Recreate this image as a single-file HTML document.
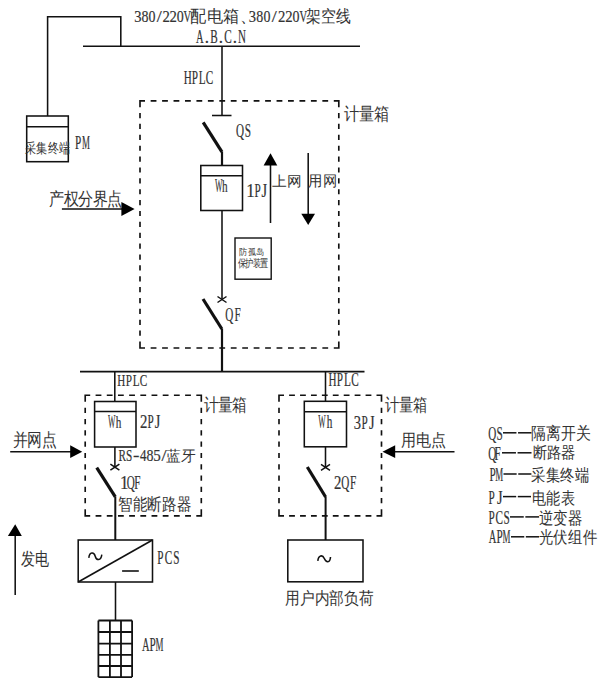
<!DOCTYPE html>
<html><head><meta charset="utf-8"><style>
html,body{margin:0;padding:0;background:#fff;width:600px;height:681px;overflow:hidden}
svg{display:block}
g.lat text{stroke:#333;stroke-width:0.2px}
text{fill:#333;font-family:'Liberation Serif',serif}
</style></head><body>
<svg width="600" height="681" viewBox="0 0 600 681">
<g stroke="#111" fill="none" stroke-linecap="butt">
<polyline points="47.6,116 47.6,16.8 120.8,16.8 120.8,46.2" fill="none" stroke-width="1.55"/>
<line x1="83" y1="46.2" x2="360" y2="46.2" stroke-width="1.55"/>
<line x1="222" y1="46.2" x2="222" y2="115.5" stroke-width="1.55"/>
<line x1="212" y1="115.5" x2="231.5" y2="115.5" stroke-width="1.55"/>
<line x1="203.2" y1="122.4" x2="221.9" y2="151.8" stroke-width="3.2"/>
<line x1="222" y1="151.5" x2="222" y2="165.5" stroke-width="2.2"/>
<rect x="200.8" y="165.5" width="41.69999999999999" height="45.0" stroke-width="1.55" fill="none"/>
<line x1="200.8" y1="175.8" x2="242.5" y2="175.8" stroke-width="1.55"/>
<line x1="222" y1="210.5" x2="222" y2="299.5" stroke-width="1.55"/>
<path d="M217.5,296.5 L226.5,302.5 M217.5,302.5 L226.5,296.5" stroke-width="1.5" fill="none"/>
<line x1="203" y1="299" x2="221.9" y2="329" stroke-width="3.2"/>
<line x1="222" y1="328.8" x2="222" y2="371.6" stroke-width="2.2"/>
<path d="M140,107.3 L140,100.8 L145.0,100.8 M333.8,100.8 L338.8,100.8 L338.8,107.3 M338.8,341.5 L338.8,348 L333.8,348 M145.0,348 L140,348 L140,341.5" stroke-width="1.65" fill="none" stroke-linejoin="miter"/>
<path d="M150.65,100.80 L156.45,100.80 M162.09,100.80 L167.89,100.80 M173.54,100.80 L179.34,100.80 M184.99,100.80 L190.79,100.80 M196.44,100.80 L202.24,100.80 M207.88,100.80 L213.68,100.80 M219.33,100.80 L225.13,100.80 M230.78,100.80 L236.58,100.80 M242.22,100.80 L248.02,100.80 M253.67,100.80 L259.47,100.80 M265.12,100.80 L270.92,100.80 M276.56,100.80 L282.36,100.80 M288.01,100.80 L293.81,100.80 M299.46,100.80 L305.26,100.80 M310.91,100.80 L316.71,100.80 M322.35,100.80 L328.15,100.80" stroke-width="1.65" fill="none"/>
<path d="M150.65,348.00 L156.45,348.00 M162.09,348.00 L167.89,348.00 M173.54,348.00 L179.34,348.00 M184.99,348.00 L190.79,348.00 M196.44,348.00 L202.24,348.00 M207.88,348.00 L213.68,348.00 M219.33,348.00 L225.13,348.00 M230.78,348.00 L236.58,348.00 M242.22,348.00 L248.02,348.00 M253.67,348.00 L259.47,348.00 M265.12,348.00 L270.92,348.00 M276.56,348.00 L282.36,348.00 M288.01,348.00 L293.81,348.00 M299.46,348.00 L305.26,348.00 M310.91,348.00 L316.71,348.00 M322.35,348.00 L328.15,348.00" stroke-width="1.65" fill="none"/>
<path d="M338.80,112.98 L338.80,118.18 M338.80,123.86 L338.80,129.06 M338.80,134.75 L338.80,139.95 M338.80,145.63 L338.80,150.83 M338.80,156.51 L338.80,161.71 M338.80,167.39 L338.80,172.59 M338.80,178.27 L338.80,183.47 M338.80,189.15 L338.80,194.35 M338.80,200.04 L338.80,205.24 M338.80,210.92 L338.80,216.12 M338.80,221.80 L338.80,227.00 M338.80,232.68 L338.80,237.88 M338.80,243.56 L338.80,248.76 M338.80,254.45 L338.80,259.65 M338.80,265.33 L338.80,270.53 M338.80,276.21 L338.80,281.41 M338.80,287.09 L338.80,292.29 M338.80,297.97 L338.80,303.17 M338.80,308.85 L338.80,314.05 M338.80,319.74 L338.80,324.94 M338.80,330.62 L338.80,335.82" stroke-width="1.65" fill="none"/>
<path d="M140.00,112.98 L140.00,118.18 M140.00,123.86 L140.00,129.06 M140.00,134.75 L140.00,139.95 M140.00,145.63 L140.00,150.83 M140.00,156.51 L140.00,161.71 M140.00,167.39 L140.00,172.59 M140.00,178.27 L140.00,183.47 M140.00,189.15 L140.00,194.35 M140.00,200.04 L140.00,205.24 M140.00,210.92 L140.00,216.12 M140.00,221.80 L140.00,227.00 M140.00,232.68 L140.00,237.88 M140.00,243.56 L140.00,248.76 M140.00,254.45 L140.00,259.65 M140.00,265.33 L140.00,270.53 M140.00,276.21 L140.00,281.41 M140.00,287.09 L140.00,292.29 M140.00,297.97 L140.00,303.17 M140.00,308.85 L140.00,314.05 M140.00,319.74 L140.00,324.94 M140.00,330.62 L140.00,335.82" stroke-width="1.65" fill="none"/>
<line x1="270.5" y1="223" x2="270.5" y2="165" stroke-width="1.55"/>
<polygon points="263.6,165.6 277.3,165.6 270.5,153.3" fill="#000" stroke="none"/>
<line x1="308.2" y1="153" x2="308.2" y2="214" stroke-width="1.55"/>
<polygon points="301.3,213.8 315,213.8 308.2,225" fill="#000" stroke="none"/>
<rect x="235" y="238" width="36.19999999999999" height="41.19999999999999" stroke-width="1.4" fill="none"/>
<line x1="61.9" y1="208.9" x2="122" y2="208.9" stroke-width="1.55"/>
<polygon points="121.4,201.9 121.4,215.9 134.6,208.9" fill="#000" stroke="none"/>
<rect x="26.7" y="116" width="41.599999999999994" height="45.69999999999999" stroke-width="1.55" fill="none"/>
<line x1="26.7" y1="126.7" x2="68.3" y2="126.7" stroke-width="1.55"/>
<line x1="80" y1="371.6" x2="364.5" y2="371.6" stroke-width="1.55"/>
<line x1="114.8" y1="371.6" x2="114.8" y2="401.5" stroke-width="1.55"/>
<path d="M85.2,401.7 L85.2,395.2 L90.2,395.2 M196.3,395.2 L201.3,395.2 L201.3,401.7 M201.3,509.29999999999995 L201.3,515.8 L196.3,515.8 M90.2,515.8 L85.2,515.8 L85.2,509.29999999999995" stroke-width="1.65" fill="none" stroke-linejoin="miter"/>
<path d="M95.59,395.20 L101.39,395.20 M106.78,395.20 L112.58,395.20 M117.97,395.20 L123.77,395.20 M129.16,395.20 L134.96,395.20 M140.35,395.20 L146.15,395.20 M151.54,395.20 L157.34,395.20 M162.73,395.20 L168.53,395.20 M173.92,395.20 L179.72,395.20 M185.11,395.20 L190.91,395.20" stroke-width="1.65" fill="none"/>
<path d="M95.59,515.80 L101.39,515.80 M106.78,515.80 L112.58,515.80 M117.97,515.80 L123.77,515.80 M129.16,515.80 L134.96,515.80 M140.35,515.80 L146.15,515.80 M151.54,515.80 L157.34,515.80 M162.73,515.80 L168.53,515.80 M173.92,515.80 L179.72,515.80 M185.11,515.80 L190.91,515.80" stroke-width="1.65" fill="none"/>
<path d="M201.30,407.78 L201.30,412.98 M201.30,419.06 L201.30,424.26 M201.30,430.34 L201.30,435.54 M201.30,441.62 L201.30,446.82 M201.30,452.90 L201.30,458.10 M201.30,464.18 L201.30,469.38 M201.30,475.46 L201.30,480.66 M201.30,486.74 L201.30,491.94 M201.30,498.02 L201.30,503.22" stroke-width="1.65" fill="none"/>
<path d="M85.20,407.78 L85.20,412.98 M85.20,419.06 L85.20,424.26 M85.20,430.34 L85.20,435.54 M85.20,441.62 L85.20,446.82 M85.20,452.90 L85.20,458.10 M85.20,464.18 L85.20,469.38 M85.20,475.46 L85.20,480.66 M85.20,486.74 L85.20,491.94 M85.20,498.02 L85.20,503.22" stroke-width="1.65" fill="none"/>
<rect x="94.6" y="401.5" width="41.400000000000006" height="45.5" stroke-width="1.55" fill="none"/>
<line x1="94.6" y1="411.5" x2="136" y2="411.5" stroke-width="1.55"/>
<line x1="114.9" y1="447" x2="114.9" y2="467.2" stroke-width="1.55"/>
<path d="M110.4,464.2 L119.4,470.2 M110.4,470.2 L119.4,464.2" stroke-width="1.5" fill="none"/>
<line x1="96.7" y1="467.6" x2="115.3" y2="496.9" stroke-width="3.2"/>
<line x1="115.3" y1="496.7" x2="115.3" y2="540" stroke-width="2.0"/>
<rect x="78.2" y="540" width="74.3" height="42" stroke-width="1.55" fill="none"/>
<line x1="78.2" y1="582" x2="152.5" y2="540" stroke-width="1.6"/>
<path d="M88.8,557.8 C89.5,551.8 94,551.8 95.2,556.2 C96.5,560.8 101,561 101.8,554.6" fill="none" stroke-width="1.5"/>
<line x1="122.1" y1="571" x2="138.8" y2="571" stroke-width="1.6"/>
<line x1="115.5" y1="582" x2="115.5" y2="620.5" stroke-width="1.55"/>
<line x1="98.4" y1="620.5" x2="98.4" y2="677.1" stroke-width="1.8"/>
<line x1="109.9" y1="620.5" x2="109.9" y2="677.1" stroke-width="1.8"/>
<line x1="121" y1="620.5" x2="121" y2="677.1" stroke-width="1.8"/>
<line x1="132.1" y1="620.5" x2="132.1" y2="677.1" stroke-width="1.8"/>
<line x1="98.4" y1="620.5" x2="132.1" y2="620.5" stroke-width="1.8"/>
<line x1="98.4" y1="632" x2="132.1" y2="632" stroke-width="1.8"/>
<line x1="98.4" y1="643.6" x2="132.1" y2="643.6" stroke-width="1.8"/>
<line x1="98.4" y1="654.9" x2="132.1" y2="654.9" stroke-width="1.8"/>
<line x1="98.4" y1="666" x2="132.1" y2="666" stroke-width="1.8"/>
<line x1="98.4" y1="677.1" x2="132.1" y2="677.1" stroke-width="1.8"/>
<line x1="10.2" y1="451.7" x2="71" y2="451.7" stroke-width="1.55"/>
<polygon points="70.2,445.2 70.2,458 82.2,451.7" fill="#000" stroke="none"/>
<line x1="15.2" y1="594.9" x2="15.2" y2="535" stroke-width="1.55"/>
<polygon points="7.9,535.9 21.8,535.9 15.2,524.2" fill="#000" stroke="none"/>
<line x1="325.5" y1="371.6" x2="325.5" y2="401.3" stroke-width="1.55"/>
<path d="M279,401.7 L279,395.2 L284.0,395.2 M376.5,395.2 L381.5,395.2 L381.5,401.7 M381.5,509.29999999999995 L381.5,515.8 L376.5,515.8 M284.0,515.8 L279,515.8 L279,509.29999999999995" stroke-width="1.65" fill="none" stroke-linejoin="miter"/>
<path d="M289.12,395.20 L294.92,395.20 M300.04,395.20 L305.84,395.20 M310.97,395.20 L316.77,395.20 M321.89,395.20 L327.69,395.20 M332.81,395.20 L338.61,395.20 M343.73,395.20 L349.53,395.20 M354.66,395.20 L360.46,395.20 M365.58,395.20 L371.38,395.20" stroke-width="1.65" fill="none"/>
<path d="M289.12,515.80 L294.92,515.80 M300.04,515.80 L305.84,515.80 M310.97,515.80 L316.77,515.80 M321.89,515.80 L327.69,515.80 M332.81,515.80 L338.61,515.80 M343.73,515.80 L349.53,515.80 M354.66,515.80 L360.46,515.80 M365.58,515.80 L371.38,515.80" stroke-width="1.65" fill="none"/>
<path d="M381.50,407.78 L381.50,412.98 M381.50,419.06 L381.50,424.26 M381.50,430.34 L381.50,435.54 M381.50,441.62 L381.50,446.82 M381.50,452.90 L381.50,458.10 M381.50,464.18 L381.50,469.38 M381.50,475.46 L381.50,480.66 M381.50,486.74 L381.50,491.94 M381.50,498.02 L381.50,503.22" stroke-width="1.65" fill="none"/>
<path d="M279.00,407.78 L279.00,412.98 M279.00,419.06 L279.00,424.26 M279.00,430.34 L279.00,435.54 M279.00,441.62 L279.00,446.82 M279.00,452.90 L279.00,458.10 M279.00,464.18 L279.00,469.38 M279.00,475.46 L279.00,480.66 M279.00,486.74 L279.00,491.94 M279.00,498.02 L279.00,503.22" stroke-width="1.65" fill="none"/>
<rect x="304.3" y="401.3" width="42.19999999999999" height="45.5" stroke-width="1.55" fill="none"/>
<line x1="304.3" y1="411.7" x2="346.5" y2="411.7" stroke-width="1.55"/>
<line x1="325.5" y1="446.8" x2="325.5" y2="467.3" stroke-width="1.55"/>
<path d="M321.0,464.3 L330.0,470.3 M321.0,470.3 L330.0,464.3" stroke-width="1.5" fill="none"/>
<line x1="307.3" y1="467" x2="325.6" y2="497" stroke-width="3.2"/>
<line x1="325.6" y1="496.8" x2="325.6" y2="540" stroke-width="2.0"/>
<rect x="287.8" y="540" width="75.19999999999999" height="41.799999999999955" stroke-width="1.55" fill="none"/>
<path d="M317.8,560.8 C318.5,555 322.5,554.5 324.3,558.5 C326,562.5 330,563.5 330.5,557" fill="none" stroke-width="1.6"/>
<line x1="394.5" y1="451.7" x2="454.5" y2="451.7" stroke-width="1.55"/>
<polygon points="395.2,445.2 395.2,458 382.5,451.7" fill="#000" stroke="none"/>
<line x1="503" y1="432.8" x2="516.45" y2="432.8" stroke-width="1.5"/>
<line x1="518.05" y1="432.8" x2="531.5" y2="432.8" stroke-width="1.5"/>
<line x1="502" y1="452.8" x2="515.95" y2="452.8" stroke-width="1.5"/>
<line x1="517.55" y1="452.8" x2="531.5" y2="452.8" stroke-width="1.5"/>
<line x1="503.5" y1="474" x2="516.6500000000001" y2="474" stroke-width="1.5"/>
<line x1="518.25" y1="474" x2="531.4" y2="474" stroke-width="1.5"/>
<line x1="503" y1="496.6" x2="516.2" y2="496.6" stroke-width="1.5"/>
<line x1="517.8" y1="496.6" x2="531" y2="496.6" stroke-width="1.5"/>
<line x1="510" y1="516.9" x2="523.75" y2="516.9" stroke-width="1.5"/>
<line x1="525.3499999999999" y1="516.9" x2="539.1" y2="516.9" stroke-width="1.5"/>
<line x1="511" y1="536.8" x2="524.25" y2="536.8" stroke-width="1.5"/>
<line x1="525.8499999999999" y1="536.8" x2="539.1" y2="536.8" stroke-width="1.5"/>
</g>
<g id="t1" class="lat"><text x="-4.30" y="0" transform="matrix(0.857 0 0 1.045 138.00 21.80)" font-size="17">3</text><text x="-4.25" y="0" transform="matrix(0.822 0 0 1.045 145.04 21.80)" font-size="17">8</text><text x="-4.25" y="0" transform="matrix(0.822 0 0 1.045 152.09 21.80)" font-size="17">0</text><text x="-2.35" y="0" transform="matrix(1.064 0 0 1.045 159.13 21.80)" font-size="17">/</text><text x="-4.15" y="0" transform="matrix(0.870 0 0 1.045 166.17 21.80)" font-size="17">2</text><text x="-4.15" y="0" transform="matrix(0.870 0 0 1.045 173.21 21.80)" font-size="17">2</text><text x="-4.25" y="0" transform="matrix(0.822 0 0 1.045 180.26 21.80)" font-size="17">0</text><text x="-6.15" y="0" transform="matrix(0.622 0 0 1.045 187.30 21.80)" font-size="17">V</text></g>
<text id="t2" class="cjk" x="0" y="0" font-size="16" font-weight="normal" transform="matrix(1.0346 0 0 1.0867 190.07 21.73)">配电箱、</text>
<g id="t3" class="lat"><text x="-4.30" y="0" transform="matrix(0.857 0 0 1.045 252.50 21.80)" font-size="17">3</text><text x="-4.25" y="0" transform="matrix(0.822 0 0 1.045 259.76 21.80)" font-size="17">8</text><text x="-4.25" y="0" transform="matrix(0.822 0 0 1.045 267.01 21.80)" font-size="17">0</text><text x="-2.35" y="0" transform="matrix(1.064 0 0 1.045 274.27 21.80)" font-size="17">/</text><text x="-4.15" y="0" transform="matrix(0.870 0 0 1.045 281.53 21.80)" font-size="17">2</text><text x="-4.15" y="0" transform="matrix(0.870 0 0 1.045 288.79 21.80)" font-size="17">2</text><text x="-4.25" y="0" transform="matrix(0.822 0 0 1.045 296.04 21.80)" font-size="17">0</text><text x="-6.15" y="0" transform="matrix(0.622 0 0 1.045 303.30 21.80)" font-size="17">V</text></g>
<text id="t4" class="cjk" x="0" y="0" font-size="16" font-weight="normal" transform="matrix(0.9217 0 0 1.0533 306.28 21.79)">架空线</text>
<g id="t5" class="lat"><text x="-6.20" y="0" transform="matrix(0.617 0 0 1.108 199.70 42.80)" font-size="17">A</text><text x="-2.10" y="0" transform="matrix(1.000 0 0 1.108 206.73 42.80)" font-size="17">.</text><text x="-5.50" y="0" transform="matrix(0.660 0 0 1.108 213.77 42.80)" font-size="17">B</text><text x="-2.10" y="0" transform="matrix(1.000 0 0 1.108 220.80 42.80)" font-size="17">.</text><text x="-5.55" y="0" transform="matrix(0.660 0 0 1.108 227.83 42.80)" font-size="17">C</text><text x="-2.10" y="0" transform="matrix(1.000 0 0 1.108 234.87 42.80)" font-size="17">.</text><text x="-6.20" y="0" transform="matrix(0.649 0 0 1.108 241.90 42.80)" font-size="17">N</text></g>
<g id="t6" class="lat"><text x="-6.15" y="0" transform="matrix(0.655 0 0 1.090 187.70 83.80)" font-size="17">H</text><text x="-4.65" y="0" transform="matrix(0.660 0 0 1.090 194.90 83.80)" font-size="17">P</text><text x="-4.95" y="0" transform="matrix(0.660 0 0 1.090 202.10 83.80)" font-size="17">L</text><text x="-5.55" y="0" transform="matrix(0.660 0 0 1.090 209.30 83.80)" font-size="17">C</text></g>
<text id="t7" class="cjk" x="0" y="0" font-size="11" font-weight="normal" transform="matrix(1.0122 0 0 1.2800 24.88 153.12)">采集终端</text>
<g id="t8" class="lat"><text x="-4.65" y="0" transform="matrix(0.660 0 0 1.120 78.04 149.40)" font-size="17">P</text><text x="-7.55" y="0" transform="matrix(0.525 0 0 1.120 85.90 149.40)" font-size="17">M</text></g>
<g id="t9" class="lat"><text x="-6.35" y="0" transform="matrix(0.655 0 0 1.100 240.20 137.30)" font-size="17">Q</text><text x="-4.75" y="0" transform="matrix(0.660 0 0 1.100 247.89 137.30)" font-size="17">S</text></g>
<text id="t10" class="cjk" x="0" y="0" font-size="16" font-weight="normal" transform="matrix(0.9315 0 0 1.1000 344.42 120.00)">计量箱</text>
<g id="t11" class="lat"><text x="-8.00" y="0" transform="matrix(0.463 0 0 1.068 218.70 192.30)" font-size="17">W</text><text x="-4.25" y="0" transform="matrix(0.660 0 0 1.013 224.83 192.30)" font-size="17">h</text></g>
<g id="t12" class="lat"><text x="-4.50" y="0" transform="matrix(1.000 0 0 1.100 250.80 196.80)" font-size="17">1</text><text x="-4.65" y="0" transform="matrix(0.660 0 0 1.100 257.60 196.80)" font-size="17">P</text><text x="-3.35" y="0" transform="matrix(0.847 0 0 1.100 264.40 196.80)" font-size="17">J</text></g>
<text id="t13" class="cjk" x="0" y="0" font-size="16" font-weight="normal" transform="matrix(0.9328 0 0 0.8867 271.92 186.13)">上网</text>
<text id="t14" class="cjk" x="0" y="0" font-size="16" font-weight="normal" transform="matrix(0.9069 0 0 0.9500 308.19 186.00)">用网</text>
<text id="t15" class="cjk" x="0" y="0" font-size="16" font-weight="normal" transform="matrix(0.9192 0 0 1.1000 49.18 205.30)">产权分界点</text>
<text id="t16" class="cjk" x="0" y="0" font-size="8" font-weight="normal" transform="matrix(1.0857 0 0 1.1857 238.93 254.71)">防孤岛</text>
<text id="t17" class="cjk" x="0" y="0" font-size="8" font-weight="normal" transform="matrix(0.9931 0 0 1.3286 237.61 267.07)">保护装置</text>
<g id="t18" class="lat"><text x="-6.35" y="0" transform="matrix(0.655 0 0 1.100 229.50 320.60)" font-size="17">Q</text><text x="-4.65" y="0" transform="matrix(0.660 0 0 1.100 237.56 320.60)" font-size="17">F</text></g>
<g id="t19" class="lat"><text x="-6.15" y="0" transform="matrix(0.655 0 0 1.018 121.30 385.50)" font-size="17">H</text><text x="-4.65" y="0" transform="matrix(0.660 0 0 1.018 128.70 385.50)" font-size="17">P</text><text x="-4.95" y="0" transform="matrix(0.660 0 0 1.018 136.10 385.50)" font-size="17">L</text><text x="-5.55" y="0" transform="matrix(0.660 0 0 1.018 143.50 385.50)" font-size="17">C</text></g>
<g id="t20" class="lat"><text x="-6.15" y="0" transform="matrix(0.655 0 0 1.108 332.50 385.80)" font-size="17">H</text><text x="-4.65" y="0" transform="matrix(0.660 0 0 1.108 339.93 385.80)" font-size="17">P</text><text x="-4.95" y="0" transform="matrix(0.660 0 0 1.108 347.37 385.80)" font-size="17">L</text><text x="-5.55" y="0" transform="matrix(0.660 0 0 1.108 354.80 385.80)" font-size="17">C</text></g>
<text id="t21" class="cjk" x="0" y="0" font-size="16" font-weight="normal" transform="matrix(0.8978 0 0 1.1000 203.60 410.60)">计量箱</text>
<text id="t22" class="cjk" x="0" y="0" font-size="16" font-weight="normal" transform="matrix(0.9043 0 0 1.1400 384.70 410.92)">计量箱</text>
<g id="t23" class="lat"><text x="-8.00" y="0" transform="matrix(0.463 0 0 1.081 111.70 427.50)" font-size="17">W</text><text x="-4.25" y="0" transform="matrix(0.660 0 0 1.026 118.63 427.50)" font-size="17">h</text></g>
<g id="t24" class="lat"><text x="-4.15" y="0" transform="matrix(0.870 0 0 1.100 143.70 428.30)" font-size="17">2</text><text x="-4.65" y="0" transform="matrix(0.660 0 0 1.100 150.60 428.30)" font-size="17">P</text><text x="-3.35" y="0" transform="matrix(0.847 0 0 1.100 157.50 428.30)" font-size="17">J</text></g>
<g id="t25" class="lat"><text x="-8.00" y="0" transform="matrix(0.463 0 0 1.108 322.00 427.80)" font-size="17">W</text><text x="-4.25" y="0" transform="matrix(0.660 0 0 1.052 329.63 427.80)" font-size="17">h</text></g>
<g id="t26" class="lat"><text x="-4.30" y="0" transform="matrix(0.857 0 0 1.100 357.50 428.60)" font-size="17">3</text><text x="-4.65" y="0" transform="matrix(0.660 0 0 1.100 364.65 428.60)" font-size="17">P</text><text x="-3.35" y="0" transform="matrix(0.847 0 0 1.100 371.80 428.60)" font-size="17">J</text></g>
<text id="t27" class="cjk" x="0" y="0" font-size="16" font-weight="normal" transform="matrix(0.9065 0 0 1.1000 12.99 446.40)">并网点</text>
<text id="t28" class="cjk" x="0" y="0" font-size="16" font-weight="normal" transform="matrix(0.9304 0 0 1.0533 401.37 446.49)">用电点</text>
<g id="t29" class="lat"><text x="-5.90" y="0" transform="matrix(0.660 0 0 1.000 122.26 461.30)" font-size="17">R</text><text x="-4.75" y="0" transform="matrix(0.660 0 0 1.000 129.22 461.30)" font-size="17">S</text><text x="-2.80" y="0" transform="matrix(1.136 0 0 1.000 136.18 461.30)" font-size="17">-</text><text x="-4.25" y="0" transform="matrix(0.759 0 0 1.000 143.13 461.30)" font-size="17">4</text><text x="-4.25" y="0" transform="matrix(0.822 0 0 1.000 150.09 461.30)" font-size="17">8</text><text x="-4.40" y="0" transform="matrix(0.882 0 0 1.000 157.04 461.30)" font-size="17">5</text><text x="-2.35" y="0" transform="matrix(1.064 0 0 1.000 164.00 461.30)" font-size="17">/</text></g>
<text id="t30" class="cjk" x="0" y="0" font-size="16" font-weight="normal" transform="matrix(0.9393 0 0 0.9533 165.92 461.49)">蓝牙</text>
<g id="t31" class="lat"><text x="-4.50" y="0" transform="matrix(1.000 0 0 1.100 124.40 489.00)" font-size="17">1</text><text x="-6.35" y="0" transform="matrix(0.655 0 0 1.100 130.83 489.00)" font-size="17">Q</text><text x="-4.65" y="0" transform="matrix(0.660 0 0 1.100 137.26 489.00)" font-size="17">F</text></g>
<g id="t32" class="lat"><text x="-4.15" y="0" transform="matrix(0.870 0 0 1.100 337.70 489.20)" font-size="17">2</text><text x="-6.35" y="0" transform="matrix(0.655 0 0 1.100 345.33 489.20)" font-size="17">Q</text><text x="-4.65" y="0" transform="matrix(0.660 0 0 1.100 352.96 489.20)" font-size="17">F</text></g>
<text id="t33" class="cjk" x="0" y="0" font-size="16" font-weight="normal" transform="matrix(0.9123 0 0 1.0733 117.99 509.85)">智能断路器</text>
<text id="t34" class="cjk" x="0" y="0" font-size="16" font-weight="normal" transform="matrix(0.9000 0 0 1.1533 20.50 564.59)">发电</text>
<g id="t35" class="lat"><text x="-4.65" y="0" transform="matrix(0.660 0 0 1.120 160.34 564.20)" font-size="17">P</text><text x="-5.55" y="0" transform="matrix(0.660 0 0 1.120 168.31 564.20)" font-size="17">C</text><text x="-4.75" y="0" transform="matrix(0.660 0 0 1.120 176.29 564.20)" font-size="17">S</text></g>
<g id="t36" class="lat"><text x="-6.20" y="0" transform="matrix(0.617 0 0 1.117 145.80 650.70)" font-size="17">A</text><text x="-4.65" y="0" transform="matrix(0.660 0 0 1.117 152.65 650.70)" font-size="17">P</text><text x="-7.55" y="0" transform="matrix(0.525 0 0 1.117 159.50 650.70)" font-size="17">M</text></g>
<text id="t37" class="cjk" x="0" y="0" font-size="16" font-weight="normal" transform="matrix(0.9032 0 0 1.0467 285.10 603.71)">用户内部负荷</text>
<g id="t38" class="lat"><text x="-6.35" y="0" transform="matrix(0.655 0 0 1.100 492.45 440.30)" font-size="17">Q</text><text x="-4.75" y="0" transform="matrix(0.660 0 0 1.100 499.59 440.30)" font-size="17">S</text></g>
<text id="t39" class="cjk" x="0" y="0" font-size="16" font-weight="normal" transform="matrix(0.9328 0 0 1.0667 531.17 438.87)">隔离开关</text>
<g id="t40" class="lat"><text x="-6.35" y="0" transform="matrix(0.655 0 0 1.100 492.45 460.30)" font-size="17">Q</text><text x="-4.65" y="0" transform="matrix(0.660 0 0 1.100 497.46 460.30)" font-size="17">F</text></g>
<text id="t41" class="cjk" x="0" y="0" font-size="16" font-weight="normal" transform="matrix(0.8978 0 0 1.0000 532.50 458.40)">断路器</text>
<g id="t42" class="lat"><text x="-4.65" y="0" transform="matrix(0.660 0 0 1.072 492.54 480.80)" font-size="17">P</text><text x="-7.55" y="0" transform="matrix(0.525 0 0 1.072 499.30 480.80)" font-size="17">M</text></g>
<text id="t43" class="cjk" x="0" y="0" font-size="16" font-weight="normal" transform="matrix(0.9161 0 0 1.0867 531.08 481.13)">采集终端</text>
<g id="t44" class="lat"><text x="-4.65" y="0" transform="matrix(0.660 0 0 1.100 491.54 504.40)" font-size="17">P</text><text x="-3.35" y="0" transform="matrix(0.847 0 0 1.100 499.90 504.40)" font-size="17">J</text></g>
<text id="t45" class="cjk" x="0" y="0" font-size="16" font-weight="normal" transform="matrix(0.9022 0 0 1.0867 532.00 503.53)">电能表</text>
<g id="t46" class="lat"><text x="-4.65" y="0" transform="matrix(0.660 0 0 1.108 491.54 523.50)" font-size="17">P</text><text x="-5.55" y="0" transform="matrix(0.660 0 0 1.108 499.12 523.50)" font-size="17">C</text><text x="-4.75" y="0" transform="matrix(0.660 0 0 1.108 506.69 523.50)" font-size="17">S</text></g>
<text id="t47" class="cjk" x="0" y="0" font-size="16" font-weight="normal" transform="matrix(0.9200 0 0 1.0867 538.78 523.83)">逆变器</text>
<g id="t48" class="lat"><text x="-6.20" y="0" transform="matrix(0.617 0 0 1.120 492.50 542.80)" font-size="17">A</text><text x="-4.65" y="0" transform="matrix(0.660 0 0 1.120 499.45 542.80)" font-size="17">P</text><text x="-7.55" y="0" transform="matrix(0.525 0 0 1.120 506.40 542.80)" font-size="17">M</text></g>
<text id="t49" class="cjk" x="0" y="0" font-size="16" font-weight="normal" transform="matrix(0.9177 0 0 1.0867 538.78 542.83)">光伏组件</text>
</svg>
</body></html>
